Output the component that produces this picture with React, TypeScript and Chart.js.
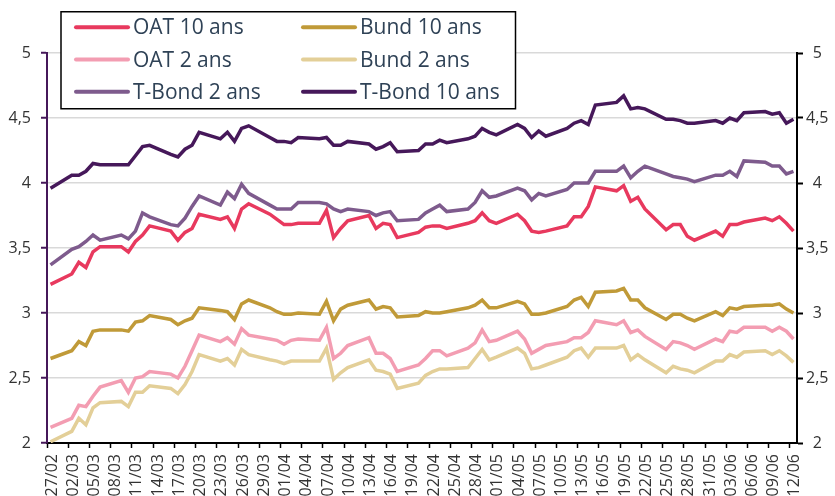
import React, { useEffect, useRef } from 'react';
import { Chart, registerables } from 'chart.js';

Chart.register(...registerables);

// Business days (2025)
const dates = [
  '28/02',
  '03/03', '04/03', '05/03', '06/03', '07/03',
  '10/03', '11/03', '12/03', '13/03', '14/03',
  '17/03', '18/03', '19/03', '20/03', '21/03',
  '24/03', '25/03', '26/03', '27/03', '28/03',
  '31/03', '01/04', '02/04', '03/04', '04/04',
  '07/04', '08/04', '09/04', '10/04', '11/04',
  '14/04', '15/04', '16/04', '17/04', '18/04',
  '21/04', '22/04', '23/04', '24/04', '25/04',
  '28/04', '29/04', '30/04', '01/05', '02/05',
  '05/05', '06/05', '07/05', '08/05', '09/05',
  '12/05', '13/05', '14/05', '15/05', '16/05',
  '19/05', '20/05', '21/05', '22/05', '23/05',
  '26/05', '27/05', '28/05', '29/05', '30/05',
  '02/06', '03/06', '04/06', '05/06', '06/06',
  '09/06', '10/06', '11/06', '12/06', '13/06',
];

const oat10 = [
  3.22,
  3.30, 3.39, 3.35, 3.47, 3.51,
  3.51, 3.47, 3.55, 3.60, 3.67,
  3.63, 3.56, 3.62, 3.65, 3.76,
  3.72, 3.74, 3.65, 3.80, 3.84,
  3.76, 3.72, 3.68, 3.68, 3.69,
  3.69, 3.79, 3.58, 3.65, 3.71,
  3.75, 3.65, 3.69, 3.68, 3.58,
  3.62, 3.66, 3.67, 3.67, 3.65,
  3.69, 3.71, 3.77, 3.71, 3.69,
  3.76, 3.71, 3.63, 3.62, 3.63,
  3.67, 3.74, 3.74, 3.82, 3.97,
  3.94, 3.98, 3.86, 3.89, 3.80,
  3.64, 3.68, 3.68, 3.59, 3.56,
  3.63, 3.59, 3.68, 3.68, 3.70,
  3.73, 3.71, 3.74, 3.69, 3.63,
];

const bund10 = [
  2.65,
  2.71, 2.78, 2.75, 2.86, 2.87,
  2.87, 2.86, 2.93, 2.94, 2.98,
  2.95, 2.91, 2.94, 2.96, 3.04,
  3.02, 3.01, 2.95, 3.07, 3.10,
  3.04, 3.01, 2.99, 2.99, 3.00,
  2.99, 3.09, 2.94, 3.03, 3.06,
  3.10, 3.03, 3.05, 3.04, 2.97,
  2.98, 3.01, 3.00, 3.00, 3.01,
  3.04, 3.06, 3.10, 3.04, 3.04,
  3.09, 3.07, 2.99, 2.99, 3.00,
  3.05, 3.10, 3.12, 3.05, 3.16,
  3.17, 3.19, 3.10, 3.10, 3.04,
  2.95, 2.99, 2.99, 2.96, 2.94,
  3.01, 2.98, 3.04, 3.03, 3.05,
  3.06, 3.06, 3.07, 3.03, 3.00,
];

const oat2 = [
  2.12,
  2.19, 2.29, 2.28, 2.36, 2.43,
  2.48, 2.39, 2.50, 2.51, 2.55,
  2.53, 2.50, 2.59, 2.71, 2.83,
  2.78, 2.81, 2.76, 2.88, 2.83,
  2.80, 2.79, 2.76, 2.79, 2.80,
  2.79, 2.89, 2.65, 2.69, 2.75,
  2.81, 2.69, 2.69, 2.65, 2.55,
  2.60, 2.65, 2.71, 2.71, 2.67,
  2.73, 2.77, 2.87, 2.78, 2.79,
  2.86, 2.80, 2.69, 2.72, 2.75,
  2.78, 2.81, 2.81, 2.85, 2.94,
  2.91, 2.94, 2.85, 2.87, 2.82,
  2.72, 2.78, 2.77, 2.75, 2.72,
  2.80, 2.78, 2.86, 2.85, 2.89,
  2.89, 2.86, 2.89, 2.86, 2.80,
];

const bund2 = [
  2.01,
  2.09, 2.19, 2.14, 2.27, 2.31,
  2.32, 2.28, 2.39, 2.39, 2.44,
  2.42, 2.38, 2.45, 2.55, 2.68,
  2.63, 2.65, 2.60, 2.72, 2.68,
  2.64, 2.63, 2.61, 2.63, 2.63,
  2.63, 2.73, 2.49, 2.54, 2.58,
  2.64, 2.56, 2.55, 2.53, 2.42,
  2.46, 2.52, 2.55, 2.57, 2.57,
  2.58, 2.65, 2.72, 2.64, 2.66,
  2.73, 2.69, 2.57, 2.58, 2.60,
  2.66, 2.71, 2.73, 2.66, 2.73,
  2.73, 2.75, 2.64, 2.68, 2.64,
  2.54, 2.59, 2.57, 2.56, 2.54,
  2.63, 2.63, 2.68, 2.66, 2.70,
  2.71, 2.68, 2.71, 2.67, 2.62,
];

const tbond2 = [
  3.37,
  3.49, 3.51, 3.55, 3.60, 3.56,
  3.60, 3.57, 3.63, 3.77, 3.74,
  3.68, 3.67, 3.73, 3.82, 3.90,
  3.83, 3.93, 3.88, 3.99, 3.92,
  3.83, 3.80, 3.80, 3.80, 3.85,
  3.85, 3.84, 3.80, 3.78, 3.80,
  3.78, 3.75, 3.77, 3.78, 3.71,
  3.72, 3.77, 3.80, 3.83, 3.78,
  3.80, 3.85, 3.94, 3.89, 3.90,
  3.96, 3.94, 3.87, 3.92, 3.90,
  3.95, 4.00, 4.00, 4.00, 4.09,
  4.09, 4.13, 4.04, 4.09, 4.13,
  4.07, 4.05, 4.04, 4.03, 4.01,
  4.06, 4.06, 4.09, 4.05, 4.17,
  4.16, 4.13, 4.13, 4.07, 4.09,
];

const tbond10 = [
  3.96,
  4.06, 4.06, 4.09, 4.15, 4.14,
  4.14, 4.14, 4.21, 4.28, 4.29,
  4.22, 4.20, 4.26, 4.29, 4.39,
  4.34, 4.39, 4.32, 4.42, 4.44,
  4.35, 4.32, 4.32, 4.31, 4.35,
  4.34, 4.35, 4.29, 4.29, 4.32,
  4.30, 4.26, 4.28, 4.31, 4.24,
  4.25, 4.30, 4.30, 4.33, 4.31,
  4.34, 4.36, 4.42, 4.39, 4.37,
  4.45, 4.42, 4.35, 4.40, 4.36,
  4.42, 4.46, 4.48, 4.45, 4.60,
  4.62, 4.67, 4.57, 4.58, 4.57,
  4.49, 4.49, 4.48, 4.46, 4.46,
  4.48, 4.46, 4.50, 4.48, 4.54,
  4.55, 4.53, 4.54, 4.46, 4.49,
];

// Axis tick labels (every third calendar day)
const tickLabels = [
  '27/02', '02/03', '05/03', '08/03', '11/03', '14/03', '17/03', '20/03', '23/03',
  '26/03', '29/03', '01/04', '04/04', '07/04', '10/04', '13/04', '16/04', '19/04',
  '22/04', '25/04', '28/04', '01/05', '04/05', '07/05', '10/05', '13/05', '16/05',
  '19/05', '22/05', '25/05', '28/05', '31/05', '03/06', '06/06', '09/06', '12/06',
];

const seriesNames = ['OAT 10 ans', 'Bund 10 ans', 'OAT 2 ans', 'Bund 2 ans', 'T-Bond 2 ans', 'T-Bond 10 ans'];
const seriesValues = [oat10, bund10, oat2, bund2, tbond2, tbond10];
const seriesColors = ['#e8395e', '#c09a38', '#f39db2', '#e3cf98', '#7e5b8d', '#46185a'];

const YEAR = 2025;
const origin = new Date(YEAR, 1, 27).getTime();
// calendar position of a day's close on the daily axis
const dayPos = (s: string) => {
  const [d, m] = s.split('/').map(Number);
  return Math.round((new Date(YEAR, m - 1, d).getTime() - origin) / 86400000) - 0.5;
};

const fmt = (v: number) => String(v).replace('.', ',');
const tickFont = { family: '"Open Sans", sans-serif', size: 16 };

const boxLegend = {
  id: 'boxLegend',
  afterDraw(chart: any) {
    const ctx = chart.ctx as CanvasRenderingContext2D;
    const left = chart.chartArea.left + 14;
    const top = 11.75;
    const w = 454.5;
    const h = 97;
    ctx.save();
    ctx.fillStyle = '#ffffff';
    ctx.fillRect(left, top, w, h);
    ctx.strokeStyle = '#000000';
    ctx.lineWidth = 1.5;
    ctx.strokeRect(left, top, w, h);
    ctx.font = '21px "Open Sans", sans-serif';
    ctx.textBaseline = 'middle';
    ctx.textAlign = 'left';
    chart.data.datasets.forEach((ds: any, i: number) => {
      const col = i % 2;
      const row = Math.floor(i / 2);
      const x0 = left + 14 + col * 227;
      const y = top + 15.5 + row * 32.3;
      ctx.strokeStyle = ds.borderColor;
      ctx.lineWidth = 4;
      ctx.lineCap = 'round';
      ctx.beginPath();
      ctx.moveTo(x0 + 1, y);
      ctx.lineTo(x0 + 53, y);
      ctx.stroke();
      ctx.fillStyle = '#2f4256';
      ctx.fillText(ds.label, x0 + 58, y + 1);
    });
    ctx.restore();
  },
};

export default function App() {
  const ref = useRef<HTMLCanvasElement | null>(null);

  useEffect(() => {
    if (!ref.current) return;
    const datasets = seriesNames.map((name, k) => ({
      label: name,
      data: dates.map((d, i) => ({ x: dayPos(d), y: seriesValues[k][i] })),
      borderColor: seriesColors[k],
      backgroundColor: seriesColors[k],
      borderWidth: 3.5,
      pointRadius: 0,
      tension: 0,
      fill: false,
    }));
    const chart = new Chart(ref.current, {
      type: 'line',
      data: { datasets },
      plugins: [boxLegend],
      options: {
        animation: false,
        responsive: false,
        devicePixelRatio: 1,
        layout: { padding: { top: 53, left: 0, right: 0, bottom: 0 } },
        plugins: { legend: { display: false }, tooltip: { enabled: false } },
        scales: {
          x: {
            type: 'linear',
            min: 0,
            max: 106,
            afterBuildTicks: (scale: any) => {
              scale.ticks = tickLabels.map((_, i) => ({ value: i * 3 }));
            },
            afterFit: (scale: any) => {
              scale.height = 53;
            },
            ticks: {
              autoSkip: false,
              minRotation: 90,
              maxRotation: 90,
              padding: 6,
              labelOffset: 5,
              color: '#333333',
              font: tickFont,
              callback: (_v: any, i: number) => tickLabels[i],
            },
            grid: {
              drawOnChartArea: false,
              drawTicks: true,
              tickLength: 5,
              tickColor: '#000000',
              tickWidth: 1.5,
            },
            border: { display: true, color: '#000000', width: 2 },
          },
          y: {
            position: 'left',
            min: 2,
            max: 5,
            afterFit: (scale: any) => {
              scale.width = 47;
            },
            ticks: {
              stepSize: 0.5,
              padding: 10,
              color: '#333333',
              font: tickFont,
              callback: (v: any) => fmt(v),
            },
            grid: {
              color: '#d9d9d9',
              lineWidth: 1.5,
              tickColor: '#46185a',
              tickLength: 6,
              tickWidth: 2,
            },
            border: { display: true, color: '#46185a', width: 2 },
          },
          y2: {
            position: 'right',
            min: 2,
            max: 5,
            afterFit: (scale: any) => {
              scale.width = 38;
            },
            ticks: {
              stepSize: 0.5,
              padding: 3,
              crossAlign: 'center',
              color: '#333333',
              font: tickFont,
              callback: (v: any) => fmt(v),
            },
            grid: {
              drawOnChartArea: false,
              tickColor: '#000000',
              tickLength: 6,
              tickWidth: 2,
            },
            border: { display: true, color: '#000000', width: 2 },
          },
        },
      } as any,
    });
    return () => chart.destroy();
  }, []);

  return (
    <div style={{ position: 'fixed', left: 0, top: 0, width: 835, height: 496, background: '#fff', overflow: 'hidden' }}>
      <canvas ref={ref} width={835} height={496} style={{ display: 'block' }} />
    </div>
  );
}
